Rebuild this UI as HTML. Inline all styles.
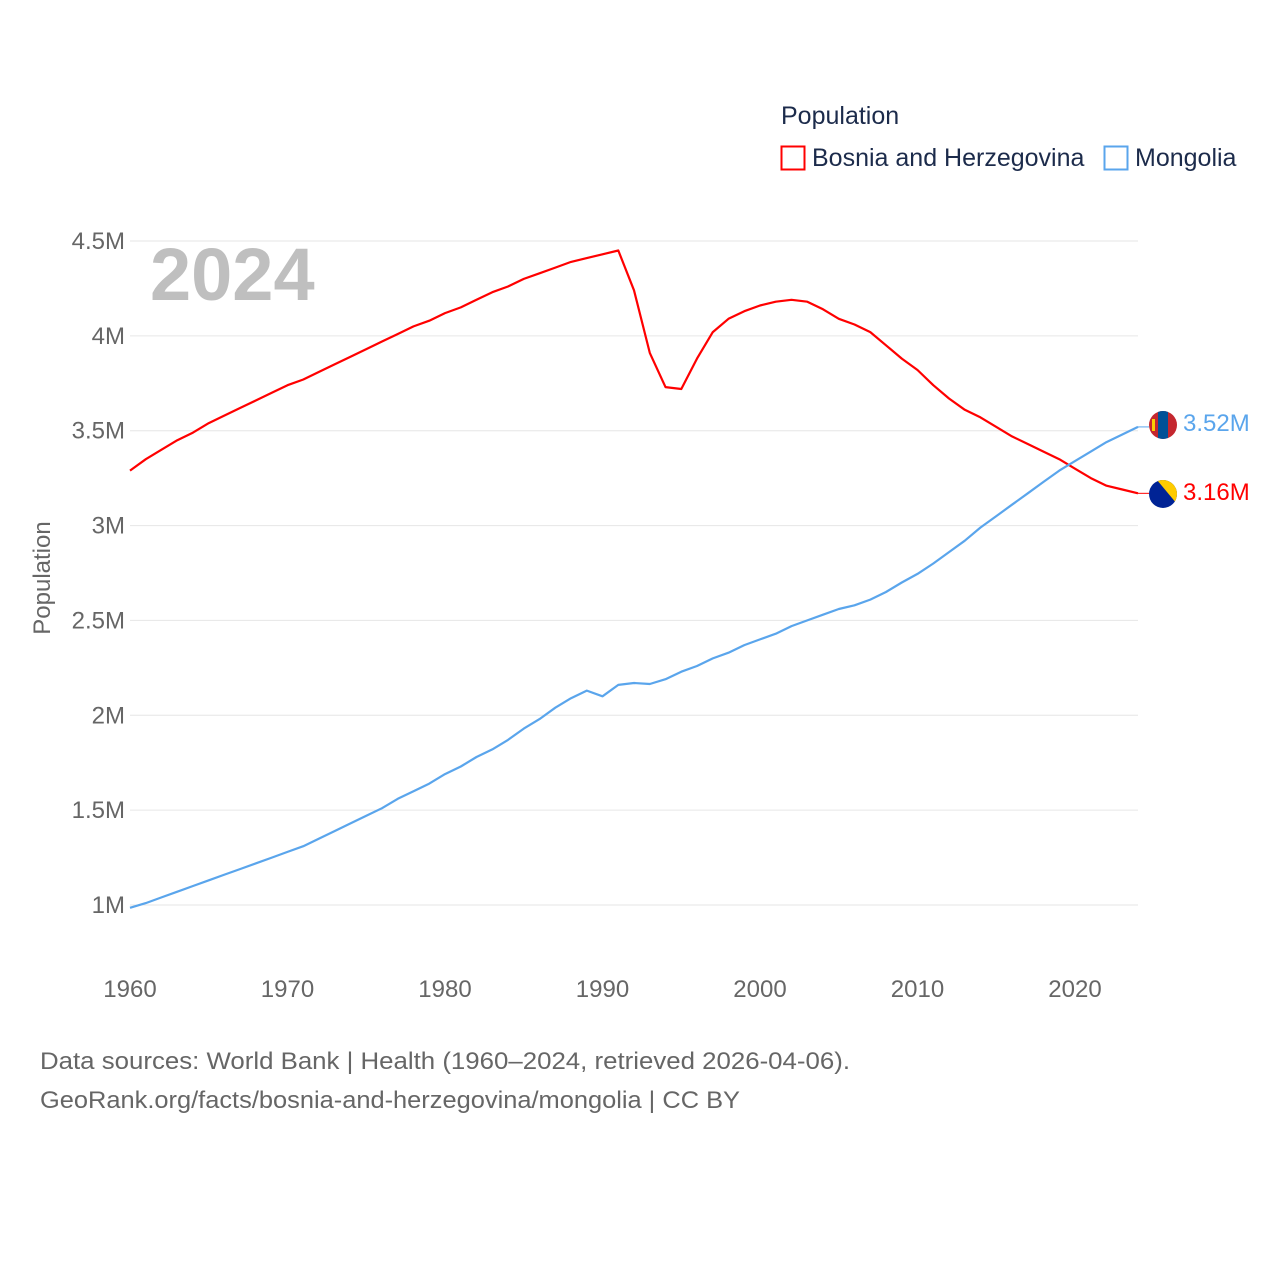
<!DOCTYPE html>
<html><head><meta charset="utf-8">
<style>
body{margin:0;background:#fff;width:1280px;height:1280px;overflow:hidden;font-family:"Liberation Sans",sans-serif}
</style></head>
<body>
<svg id="chart" width="1280" height="1280" xmlns="http://www.w3.org/2000/svg" font-family="Liberation Sans, sans-serif">
<defs>
<clipPath id="c1"><circle cx="1163" cy="425" r="14"/></clipPath>
<clipPath id="c2"><circle cx="1163" cy="494" r="14"/></clipPath>
</defs>
<text x="781" y="124" font-size="25" fill="#1c2b4b">Population</text>
<g>
<rect x="781.5" y="146.5" width="23" height="23" fill="none" stroke="#f00" stroke-width="2"/>
<text x="812" y="166" font-size="25" fill="#1c2b4b">Bosnia and Herzegovina</text></g>
<g>
<rect x="1104.5" y="146.5" width="23" height="23" fill="none" stroke="#5aa5ec" stroke-width="2"/>
<text x="1135" y="166" font-size="25" fill="#1c2b4b">Mongolia</text></g>
<text x="150" y="300" font-size="74" font-weight="bold" fill="#bfbfbf">2024</text>
<g id="grid"></g>
<g id="yticks"></g>
<g id="xticks"></g>
<text transform="translate(50,578) rotate(-90)" text-anchor="middle" font-size="24" fill="#666">Population</text>
<g id="lines"></g>
<g clip-path="url(#c1)">
<rect x="1149" y="411" width="28" height="28" fill="#c4272f"/><rect x="1158" y="411" width="10" height="28" fill="#015197"/>
<rect x="1152" y="419" width="3" height="12" fill="#f9cf02"/></g>
<g clip-path="url(#c2)">
<rect x="1149" y="480" width="28" height="28" fill="#002395"/><polygon points="1157,480 1177,480 1177,504" fill="#fecb00"/></g>
<text x="1183" y="431" font-size="24" fill="#5aa5ec">3.52M</text>
<text x="1183" y="500" font-size="24" fill="#f00">3.16M</text>
<text x="40" y="1069" font-size="24" fill="#666" textLength="810" lengthAdjust="spacingAndGlyphs">Data sources: World Bank | Health (1960–2024, retrieved 2026-04-06).</text>
<text x="40" y="1108" font-size="24" fill="#666" textLength="700" lengthAdjust="spacingAndGlyphs">GeoRank.org/facts/bosnia-and-herzegovina/mongolia | CC BY</text>
</svg>
<script>
const years=[];for(let y=1960;y<=2024;y++)years.push(y);
const bosnia=[3.29,3.35,3.40,3.45,3.49,3.54,3.58,3.62,3.66,3.70,3.74,3.77,3.81,3.85,3.89,3.93,3.97,4.01,4.05,4.08,4.12,4.15,4.19,4.23,4.26,4.30,4.33,4.36,4.39,4.41,4.43,4.45,4.24,3.91,3.73,3.72,3.88,4.02,4.09,4.13,4.16,4.18,4.19,4.18,4.14,4.09,4.06,4.02,3.95,3.88,3.82,3.74,3.67,3.61,3.57,3.52,3.47,3.43,3.39,3.35,3.30,3.25,3.21,3.19,3.17];
const mongolia=[0.985,1.01,1.04,1.07,1.10,1.13,1.16,1.19,1.22,1.25,1.28,1.31,1.35,1.39,1.43,1.47,1.51,1.56,1.60,1.64,1.69,1.73,1.78,1.82,1.87,1.93,1.98,2.04,2.09,2.13,2.10,2.16,2.17,2.165,2.19,2.23,2.26,2.30,2.33,2.37,2.40,2.43,2.47,2.50,2.53,2.56,2.58,2.61,2.65,2.70,2.745,2.80,2.86,2.92,2.99,3.05,3.11,3.17,3.23,3.29,3.34,3.39,3.44,3.48,3.52];
const yTickVals=[1,1.5,2,2.5,3,3.5,4,4.5];
const yTickLabels=["1M","1.5M","2M","2.5M","3M","3.5M","4M","4.5M"];
const xTickVals=[1960,1970,1980,1990,2000,2010,2020];
const NS="http://www.w3.org/2000/svg";
function xs(y){return 130+(y-1960)*(1138-130)/64;}
function ys(v){return 905-(v-1)*(905-241)/3.5;}
function mk(t,a,p){const e=document.createElementNS(NS,t);for(const k in a)e.setAttribute(k,a[k]);p.appendChild(e);return e;}
const grid=document.getElementById('grid'),yt=document.getElementById('yticks'),xt=document.getElementById('xticks'),ln=document.getElementById('lines');
yTickVals.forEach((v,i)=>{
 const g=mk('line',{x1:130,x2:1138,y1:ys(v),y2:ys(v),stroke:'#e6e6e6','stroke-width':1},grid);
 
 
 const t=mk('text',{x:125,y:ys(v)+8,'text-anchor':'end','font-size':24,fill:'#666'},yt);t.textContent=yTickLabels[i];
 
 
});
xTickVals.forEach(v=>{
 const t=mk('text',{x:xs(v),y:997,'text-anchor':'middle','font-size':24,fill:'#666'},xt);t.textContent=v;
 
 
});
function line(data,color,name){
 const d=data.map((v,i)=>(i?'L':'M')+xs(years[i]).toFixed(1)+','+ys(v).toFixed(1)).join('');
 const p=mk('path',{d:d,fill:'none',stroke:color,'stroke-width':2.2,'stroke-linejoin':'round'},ln);
 
 
 const last=data[data.length-1];
 mk('line',{x1:xs(2024),y1:ys(last),x2:1149,y2:ys(last),stroke:color,'stroke-width':1},ln);
}
line(bosnia,'#f00','bosnia-line');
line(mongolia,'#5aa5ec','mongolia-line');
</script>
</body></html>
